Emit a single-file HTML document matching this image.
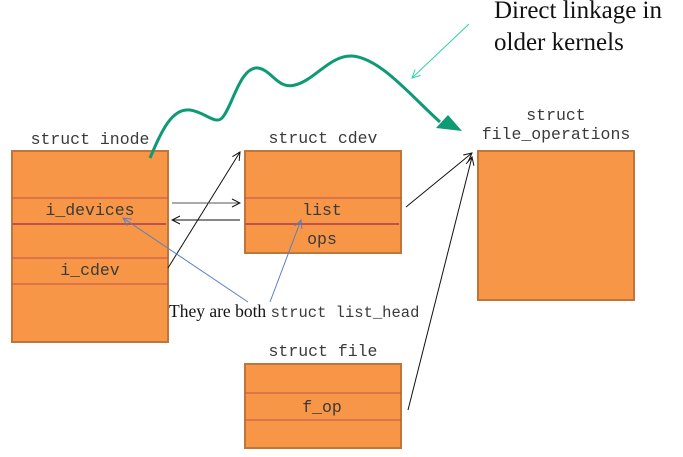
<!DOCTYPE html>
<html><head><meta charset="utf-8"><style>
body{margin:0;background:#fff;}
svg{display:block}
.m{font-family:"Liberation Mono",monospace;font-size:16.5px;fill:#3a3a3a}
</style></head><body>
<svg width="683" height="457" viewBox="0 0 683 457">
<defs>
<marker id="ab" markerWidth="10" markerHeight="10" refX="9" refY="5" orient="auto" markerUnits="userSpaceOnUse"><path d="M1,1 L9,5 L1,9" fill="none" stroke="#111" stroke-width="1"/></marker>
<marker id="abl" markerWidth="10" markerHeight="10" refX="9" refY="5" orient="auto" markerUnits="userSpaceOnUse"><path d="M1,1 L9,5 L1,9" fill="none" stroke="#5b7fc0" stroke-width="1"/></marker>
<marker id="ac" markerWidth="10" markerHeight="10" refX="9" refY="5" orient="auto" markerUnits="userSpaceOnUse"><path d="M1,1 L9,5 L1,9" fill="none" stroke="#2bd4a8" stroke-width="1"/></marker>
</defs>
<g>
<text class="m" x="90" y="144" text-anchor="middle">struct inode</text>
<rect x="12" y="151" width="156" height="191" fill="#f79646" stroke="#c0763a" stroke-width="2"/>
<line x1="12" y1="198" x2="168" y2="198" stroke="#c0504d" stroke-width="1"/>
<line x1="12" y1="224" x2="166" y2="224" stroke="#c0504d" stroke-width="2"/>
<line x1="12" y1="258" x2="168" y2="258" stroke="#c0504d" stroke-width="1"/>
<line x1="12" y1="284" x2="168" y2="284" stroke="#c0504d" stroke-width="1"/>
<text class="m" x="90" y="215" text-anchor="middle">i_devices</text>
<text class="m" x="90" y="275" text-anchor="middle">i_cdev</text>
</g>
<g>
<text class="m" x="323" y="143" text-anchor="middle">struct cdev</text>
<rect x="245" y="151" width="156" height="102" fill="#f79646" stroke="#c0763a" stroke-width="2"/>
<line x1="245" y1="198" x2="401" y2="198" stroke="#c0504d" stroke-width="1"/>
<line x1="245" y1="224" x2="399" y2="224" stroke="#c0504d" stroke-width="2"/>
<text class="m" x="322" y="215" text-anchor="middle">list</text>
<text class="m" x="322" y="244" text-anchor="middle">ops</text>
</g>
<g>
<text class="m" x="556" y="120" text-anchor="middle">struct</text>
<text class="m" x="556" y="139" text-anchor="middle">file_operations</text>
<rect x="478" y="151" width="156" height="149" fill="#f79646" stroke="#c0763a" stroke-width="2"/>
</g>
<g>
<text class="m" x="323" y="356" text-anchor="middle">struct file</text>
<rect x="245" y="364" width="156" height="84" fill="#f79646" stroke="#c0763a" stroke-width="2"/>
<line x1="245" y1="393" x2="401" y2="393" stroke="#c0504d" stroke-width="1"/>
<line x1="245" y1="420" x2="401" y2="420" stroke="#c0504d" stroke-width="1"/>
<text class="m" x="322" y="412" text-anchor="middle">f_op</text>
</g>
<line x1="168" y1="268" x2="240" y2="152" stroke="#111" marker-end="url(#ab)"/>
<line x1="172" y1="203" x2="240" y2="203" stroke="#555" marker-end="url(#ab)"/>
<line x1="240" y1="220" x2="172" y2="220" stroke="#111" marker-end="url(#ab)"/>
<line x1="406" y1="207" x2="472" y2="153" stroke="#111" marker-end="url(#ab)"/>
<line x1="408" y1="410" x2="472" y2="157" stroke="#111" marker-end="url(#ab)"/>
<line x1="248" y1="302" x2="123" y2="218" stroke="#5b7fc0" marker-end="url(#abl)"/>
<line x1="270" y1="302" x2="301" y2="220" stroke="#5b7fc0" marker-end="url(#abl)"/>
<text x="169" y="317" style="font-family:'Liberation Serif',serif;font-size:17.5px;fill:#111">They are both <tspan style="font-family:'Liberation Mono',monospace;font-size:15.5px;fill:#3a3a3a">struct list_head</tspan></text>
<path d="M150,158 C162,130 172,108 190,110 C205,112 215,125 222,118 C232,108 240,66 258,68 C272,70 278,90 295,85 C315,80 330,55 352,56 C380,58 410,95 440,122" fill="none" stroke="#0e9a74" stroke-width="3"/>
<polygon points="462,131 436,128 448,115" fill="#0e9a74"/>
<line x1="469" y1="24" x2="412" y2="78" stroke="#2bd4a8" marker-end="url(#ac)"/>
<text x="494" y="18" style="font-family:'Liberation Serif',serif;font-size:25px;fill:#111">Direct linkage in</text>
<text x="494" y="50" style="font-family:'Liberation Serif',serif;font-size:25px;fill:#111">older kernels</text>
</svg>
</body></html>
